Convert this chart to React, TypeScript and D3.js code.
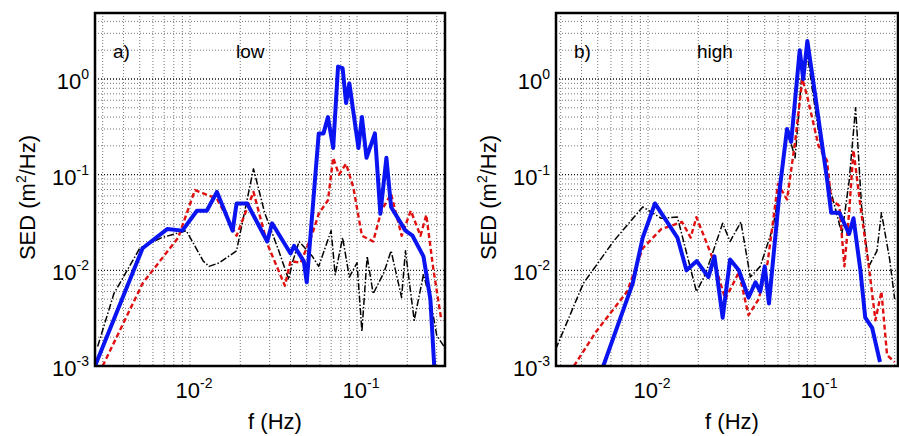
import * as d3 from "d3";
import { useEffect, useRef } from "react";

type P = [number, number];

// panel a) low
const lowBlue: P[] = [[0.0027,0.001],[0.0052,0.017],[0.0073,0.027],[0.009,0.026],[0.011,0.042],[0.0126,0.042],[0.0145,0.066],[0.018,0.026],[0.019,0.05],[0.022,0.05],[0.029,0.02],[0.031,0.031],[0.04,0.015],[0.042,0.018],[0.048,0.0125],[0.05,0.0075],[0.059,0.27],[0.063,0.27],[0.067,0.4],[0.072,0.19],[0.077,1.35],[0.082,1.3],[0.086,0.56],[0.09,0.9],[0.102,0.19],[0.107,0.4],[0.114,0.15],[0.128,0.27],[0.138,0.039],[0.15,0.15],[0.16,0.046],[0.195,0.026],[0.215,0.023],[0.25,0.014],[0.275,0.005],[0.29,0.001]];
const lowRed: P[] = [[0.003,0.001],[0.0052,0.0073],[0.0085,0.022],[0.0107,0.069],[0.0145,0.056],[0.019,0.023],[0.024,0.066],[0.029,0.019],[0.037,0.0069],[0.04,0.0125],[0.046,0.012],[0.054,0.024],[0.059,0.039],[0.067,0.054],[0.072,0.15],[0.078,0.1],[0.086,0.13],[0.095,0.074],[0.107,0.023],[0.125,0.02],[0.14,0.042],[0.16,0.063],[0.185,0.023],[0.21,0.042],[0.24,0.023],[0.26,0.038],[0.285,0.011],[0.32,0.003]];
const lowBlack: P[] = [[0.0028,0.0016],[0.0035,0.0057],[0.005,0.017],[0.0068,0.022],[0.0095,0.026],[0.012,0.0125],[0.013,0.011],[0.015,0.012],[0.019,0.016],[0.0195,0.02],[0.024,0.115],[0.028,0.04],[0.034,0.016],[0.039,0.008],[0.041,0.012],[0.045,0.02],[0.054,0.014],[0.059,0.011],[0.07,0.026],[0.074,0.009],[0.082,0.022],[0.09,0.0085],[0.1,0.012],[0.107,0.0023],[0.115,0.014],[0.125,0.0057],[0.145,0.0095],[0.16,0.016],[0.185,0.0052],[0.195,0.016],[0.22,0.003],[0.25,0.009],[0.275,0.005],[0.3,0.0021],[0.34,0.0015]];

// panel b) high
const highBlue: P[] = [[0.0054,0.001],[0.0081,0.0073],[0.0093,0.022],[0.011,0.05],[0.015,0.022],[0.017,0.01],[0.0196,0.0125],[0.023,0.0085],[0.025,0.014],[0.028,0.0032],[0.031,0.013],[0.035,0.01],[0.04,0.0052],[0.044,0.0075],[0.047,0.006],[0.05,0.011],[0.053,0.0045],[0.062,0.08],[0.068,0.3],[0.072,0.22],[0.081,2.0],[0.085,1.0],[0.09,2.5],[0.1,0.7],[0.107,0.3],[0.118,0.09],[0.125,0.04],[0.14,0.04],[0.16,0.024],[0.17,0.035],[0.187,0.01],[0.2,0.0032],[0.22,0.0025],[0.245,0.0011]];
const highRed: P[] = [[0.0036,0.001],[0.0049,0.0023],[0.0075,0.006],[0.0093,0.017],[0.012,0.027],[0.016,0.032],[0.018,0.022],[0.0195,0.036],[0.025,0.012],[0.029,0.005],[0.035,0.0095],[0.04,0.0034],[0.046,0.005],[0.052,0.012],[0.06,0.08],[0.068,0.055],[0.076,0.22],[0.084,1.0],[0.09,0.65],[0.105,0.2],[0.118,0.14],[0.125,0.055],[0.14,0.047],[0.15,0.011],[0.16,0.04],[0.17,0.18],[0.187,0.047],[0.21,0.011],[0.23,0.003],[0.25,0.006],[0.27,0.0013],[0.3,0.0011]];
const highBlack: P[] = [[0.0028,0.0015],[0.0041,0.0073],[0.0062,0.02],[0.0093,0.046],[0.012,0.035],[0.015,0.036],[0.0195,0.006],[0.022,0.009],[0.028,0.031],[0.031,0.02],[0.036,0.032],[0.041,0.0085],[0.047,0.011],[0.056,0.028],[0.062,0.08],[0.068,0.3],[0.076,0.15],[0.084,1.3],[0.09,1.8],[0.1,0.5],[0.11,0.17],[0.125,0.065],[0.145,0.024],[0.16,0.085],[0.175,0.5],[0.19,0.047],[0.21,0.011],[0.235,0.016],[0.25,0.04],[0.28,0.013],[0.3,0.005]];

const panels = [
  { left: 95, right: 445, dec: 190, tag: "a)", title: "low", series: [lowBlack, lowRed, lowBlue] },
  { left: 556, right: 898, dec: 648, tag: "b)", title: "high", series: [highBlack, highRed, highBlue] },
];
const yTicks = [1e-3, 1e-2, 1e-1, 1e0];
const xTicks = [1e-2, 1e-1];

const styles = [
  { color: "#000", width: 1.5, dash: "7,2,1.5,2" },
  { color: "#e01010", width: 2.4, dash: "5,3" },
  { color: "#0a14f0", width: 4, dash: null },
];

export default function App() {
  const ref = useRef<SVGSVGElement>(null);
  useEffect(() => {
    const svg = d3.select(ref.current);
    svg.selectAll("*").remove();
    const top = 13, bottom = 366;
    const y = d3.scaleLog().domain([1e-3, 1]).range([bottom, 79]);
    const yTop = y.invert(top);
    panels.forEach((p, pi) => {
      const x = d3.scaleLog().domain([1e-2, 1e-1]).range([p.dec, p.dec + 167]);
      const x0 = x.invert(p.left), x1 = x.invert(p.right);
      const g = svg.append("g").style("font-family", "Arial, 'Liberation Sans', sans-serif");
      const id = "clip" + pi;
      g.append("clipPath").attr("id", id).append("rect")
        .attr("x", p.left).attr("y", top).attr("width", p.right - p.left).attr("height", bottom - top);
      // grid
      const xg: number[] = [];
      for (let e = -3; e <= 0; e++) for (let m = 1; m < 10; m++) { const v = m * 10 ** e; if (v > x0 && v < x1) xg.push(v); }
      const yg: number[] = [];
      for (let e = -3; e <= 0; e++) for (let m = 1; m < 10; m++) { const v = m * 10 ** e; if (v > 1e-3 && v < yTop) yg.push(v); }
      g.selectAll(".gx").data(xg).enter().append("line")
        .attr("x1", (d) => x(d)).attr("x2", (d) => x(d)).attr("y1", top).attr("y2", bottom)
        .attr("stroke", "#666").attr("stroke-width", 0.9).attr("stroke-dasharray", "1,2");
      g.selectAll(".gy").data(yg).enter().append("line")
        .attr("y1", (d) => y(d)).attr("y2", (d) => y(d)).attr("x1", p.left).attr("x2", p.right)
        .attr("stroke", (d) => (yTicks.includes(d) ? "#111" : "#666")).attr("stroke-width", (d) => (yTicks.includes(d) ? 1.4 : 0.9))
        .attr("stroke-dasharray", "1,2");
      // lines
      const line = d3.line<P>().x((d) => x(d[0])).y((d) => y(d[1]));
      const lg = g.append("g").attr("clip-path", `url(#${id})`);
      p.series.forEach((s, i) => {
        const st = styles[i];
        lg.append("path").attr("d", line(s)!).attr("fill", "none")
          .attr("stroke", st.color).attr("stroke-width", st.width)
          .attr("stroke-dasharray", st.dash).attr("stroke-linejoin", "round");
      });
      // frame
      g.append("rect").attr("x", p.left).attr("y", top).attr("width", p.right - p.left).attr("height", bottom - top)
        .attr("fill", "none").attr("stroke", "#000").attr("stroke-width", 2.5);
      // ticks labels
      yTicks.forEach((v) => {
        const t = g.append("text").attr("x", p.left - 6).attr("y", y(v) + 10).attr("text-anchor", "end")
          .attr("font-size", 22);
        t.append("tspan").text("10");
        t.append("tspan").attr("dy", -10).attr("font-size", 14).text(String(Math.round(Math.log10(v))));
      });
      xTicks.forEach((v) => {
        const t = g.append("text").attr("x", x(v) + 4).attr("y", bottom + 32).attr("text-anchor", "middle").attr("font-size", 22);
        t.append("tspan").text("10");
        t.append("tspan").attr("dy", -10).attr("font-size", 14).text(String(Math.round(Math.log10(v))));
      });
      g.append("text").attr("x", (p.left + p.right) / 2 + 5).attr("y", bottom + 63).attr("text-anchor", "middle")
        .attr("font-size", 22).text("f (Hz)");
      const yl = g.append("text").attr("transform", `translate(${p.left - 60},${(top + bottom) / 2 + 8}) rotate(-90)`)
        .attr("text-anchor", "middle").attr("font-size", 22);
      yl.append("tspan").text("SED (m");
      yl.append("tspan").attr("dy", -9).attr("font-size", 14).text("2");
      yl.append("tspan").attr("dy", 9).text("/Hz)");
      g.append("text").attr("x", p.left + 18).attr("y", 58).attr("font-size", 19).text(p.tag);
      g.append("text").attr("x", p.left + 141).attr("y", 58).attr("font-size", 19).text(p.title);
    });
  }, []);
  return <svg ref={ref} width={899} height={436} style={{ position: "absolute", left: 0, top: 0, background: "#fff" }} />;
}
